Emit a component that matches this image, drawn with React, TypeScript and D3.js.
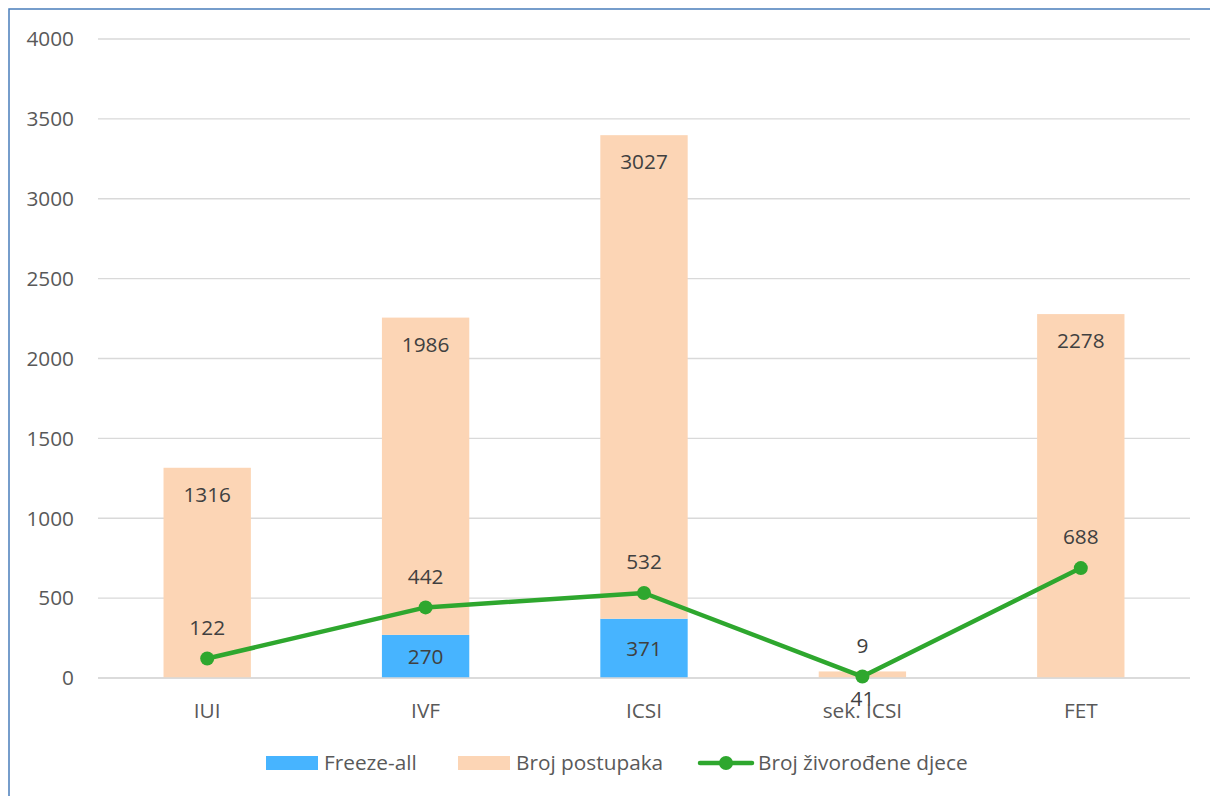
import React from "react";
import * as d3 from "d3";

const categories = ["IUI", "IVF", "ICSI", "sek. ICSI", "FET"];
const freezeAll = [0, 270, 371, 0, 0];
const brojPostupaka = [1316, 1986, 3027, 41, 2278];
const zivorodjeni = [122, 442, 532, 9, 688];
const yTicks = [0, 500, 1000, 1500, 2000, 2500, 3000, 3500, 4000];

const W = 1210;
const H = 796;
const FONT = "'Open Sans', Lato, sans-serif";
const TXT = "#595959";
const BLUE = "#47B4FF";
const PEACH = "#FCD5B5";
const GREEN = "#2EA72E";
const FS = 20.8;

export default function App() {
  const x = d3.scaleBand<string>().domain(categories).range([98, 1190]).paddingInner(0.6).paddingOuter(0.3);
  const y = d3.scaleLinear().domain([0, 4000]).range([678, 39]);
  const bw = x.bandwidth();
  const cx = (c: string) => (x(c) as number) + bw / 2;
  const line = d3
    .line<number>()
    .x((_, i) => cx(categories[i]))
    .y((d) => y(d));

  return (
    <svg width={W} height={H} style={{ position: "absolute", left: 0, top: 0 }} fontFamily={FONT}>
      <rect x={0} y={0} width={W} height={H} fill="#fff" />
      <rect x={9} y={9} width={W + 10} height={H + 10} fill="none" stroke="#4A7EBB" strokeWidth={1.5} />
      {yTicks.map((t) => (
        <g key={t}>
          <line x1={98} x2={1190} y1={y(t)} y2={y(t)} stroke="#D9D9D9" strokeWidth={1.3} />
          <text x={74} y={y(t)} dy="0.35em" textAnchor="end" fontSize={FS} fill={TXT}>
            {t}
          </text>
        </g>
      ))}
      {categories.map((c, i) => {
        const b0 = y(0);
        const b1 = y(freezeAll[i]);
        const top = y(freezeAll[i] + brojPostupaka[i]);
        return (
          <g key={c}>
            {freezeAll[i] > 0 && <rect x={x(c)} y={b1} width={bw} height={b0 - b1} fill={BLUE} />}
            <rect x={x(c)} y={top} width={bw} height={b1 - top} fill={PEACH} />
          </g>
        );
      })}
      <line x1={98} x2={1190} y1={y(0)} y2={y(0)} stroke="#D9D9D9" strokeWidth={1.3} />
      {categories.map((c, i) => {
        const b0 = y(0);
        const b1 = y(freezeAll[i]);
        const top = y(freezeAll[i] + brojPostupaka[i]);
        return (
          <g key={c + "l"} fontSize={FS} fill="#404040" textAnchor="middle">
            {freezeAll[i] > 0 && (
              <text x={cx(c)} y={(b0 + b1) / 2} dy="0.35em">
                {freezeAll[i]}
              </text>
            )}
            <text x={cx(c)} y={top + 27} dy="0.35em">
              {brojPostupaka[i]}
            </text>
          </g>
        );
      })}
      <path d={line(zivorodjeni) || ""} fill="none" stroke={GREEN} strokeWidth={4.5} strokeLinejoin="round" />
      {zivorodjeni.map((v, i) => (
        <g key={"p" + i}>
          <circle cx={cx(categories[i])} cy={y(v)} r={7} fill={GREEN} />
          <text x={cx(categories[i])} y={y(v) - 31} dy="0.35em" textAnchor="middle" fontSize={FS} fill="#404040">
            {v}
          </text>
        </g>
      ))}
      {categories.map((c) => (
        <text key={c + "x"} x={cx(c)} y={711} dy="0.35em" textAnchor="middle" fontSize={FS} fill={TXT}>
          {c}
        </text>
      ))}
      <g fontSize={FS} fill={TXT}>
        <rect x={266} y={756} width={52} height={14} fill={BLUE} />
        <text x={324} y={763} dy="0.35em">Freeze-all</text>
        <rect x={458} y={756} width={52} height={14} fill={PEACH} />
        <text x={516} y={763} dy="0.35em">Broj postupaka</text>
        <line x1={700} x2={752} y1={763} y2={763} stroke={GREEN} strokeWidth={4.5} strokeLinecap="round" />
        <circle cx={726} cy={763} r={7} fill={GREEN} />
        <text x={758} y={763} dy="0.35em">Broj živorođene djece</text>
      </g>
    </svg>
  );
}
